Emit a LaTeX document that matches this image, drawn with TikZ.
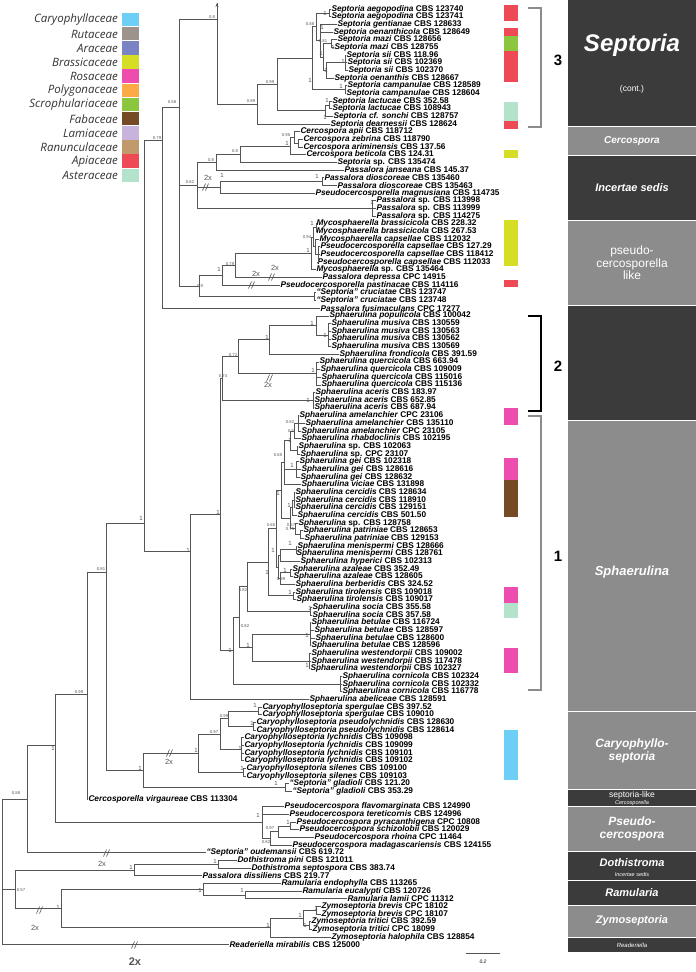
\documentclass[tikz,border=0pt]{standalone}
\usepackage{fontspec}
\setmainfont{Liberation Sans}[BoldFont={Liberation Sans Bold},ItalicFont={Liberation Sans Italic},BoldItalicFont={Liberation Sans Bold Italic}]
\newfontfamily\legfont{Open Sans}
\usetikzlibrary{calc,arrows.meta}

\definecolor{caryo}{HTML}{6DCFF6}
\definecolor{ruta}{HTML}{9B938C}
\definecolor{ara}{HTML}{7A84C3}
\definecolor{brass}{HTML}{D5DE24}
\definecolor{rosa}{HTML}{EE4DB0}
\definecolor{poly}{HTML}{FBAA45}
\definecolor{scro}{HTML}{8CC63F}
\definecolor{faba}{HTML}{744B25}
\definecolor{lami}{HTML}{C7B3DB}
\definecolor{ranu}{HTML}{C09A6C}
\definecolor{api}{HTML}{EE4A55}
\definecolor{aster}{HTML}{B4E3CC}
\definecolor{boxdark}{HTML}{3B3B3B}
\definecolor{boxlight}{HTML}{8C8C8C}
\definecolor{branchcol}{HTML}{555555}

\tikzset{
  branch/.style={draw=branchcol, line width=0.6pt},
  taxon/.style={anchor=west, inner sep=0.8pt, font=\fontsize{8.3}{8.3}\selectfont\bfseries},
  pp/.style={inner sep=0pt, font=\fontsize{6}{6}\selectfont, text=branchcol},
  ppsmall/.style={inner sep=0pt, font=\fontsize{4.2}{4.2}\selectfont, text=branchcol},
  twox/.style={inner sep=0pt, font=\fontsize{7.5}{7.5}\selectfont, text=branchcol},
  boxtext/.style={text=white, align=center, inner sep=0pt},
  bracketline/.style={line width=2.6pt},
  legtext/.style={anchor=east, inner sep=0pt, font=\legfont\itshape\fontsize{11.5}{11.5}\selectfont, text=black!80},
}

% taxon: index, label x, name, strain
\newcommand\tx[4]{\coordinate (t#1) at ({#2-1.5},{9+7.67*(#1-1)});
  \node[taxon] (l#1) at (t#1) {#3 #4};}
% clade: [y], name, x, children
\newcommand\clade[4][]{%
  \foreach \c [count=\i] in {#4}{\ifnum\i=1 \xdef\cfirst{\c}\fi\xdef\clast{\c}}%
  \ifx\relax#1\relax
    \path let \p1=(\cfirst), \p2=(\clast) in coordinate (#2) at (#3pt,{0.5*\y1+0.5*\y2});
  \else
    \coordinate (#2) at (#3,#1);
  \fi
  \foreach \c in {#4}{\draw[branch] (#2) |- (\c);}}
% break mark
\newcommand\brk[2]{\draw[branch] (#1-3.5,#2+3.5) -- (#1-0.5,#2-3.5) (#1-0.5,#2+3.5) -- (#1+2.5,#2-3.5);}
% clade box: top, bottom, colour
\newcommand\cbox[3]{\fill[#3] (568,#1) rectangle (696,#2);}

\begin{document}
\begin{tikzpicture}[x=1pt,y=-1pt]
\useasboundingbox (0,0) rectangle (696,972);
\fill[white] (0,0) rectangle (696,972);

% legend
\foreach \col/\name [count=\k] in {caryo/Caryophyllaceae,ruta/Rutaceae,ara/Araceae,brass/Brassicaceae,rosa/Rosaceae,poly/Polygonaceae,scro/Scrophulariaceae,faba/Fabaceae,lami/Lamiaceae,ranu/Ranunculaceae,api/Apiaceae,aster/Asteraceae}{
  \fill[\col] (121.5,{12.7+14.17*(\k-1)}) rectangle (138.5,{12.7+14.17*\k-0.6});
  \node[legtext] (leg\k) at (118,{12.7+14.17*(\k-0.5)}) {\name};
}

% taxa
\tx{1}{332}{\textit{Septoria aegopodina}}{CBS 123740}
\tx{2}{332}{\textit{Septoria aegopodina}}{CBS 123741}
\tx{3}{338}{\textit{Septoria gentianae}}{CBS 128633}
\tx{4}{334}{\textit{Septoria oenanthicola}}{CBS 128649}
\tx{5}{338}{\textit{Septoria mazi}}{CBS 128656}
\tx{6}{335}{\textit{Septoria mazi}}{CBS 128755}
\tx{7}{347}{\textit{Septoria sii}}{CBS 118.96}
\tx{8}{348}{\textit{Septoria sii}}{CBS 102369}
\tx{9}{349}{\textit{Septoria sii}}{CBS 102370}
\tx{10}{335}{\textit{Septoria oenanthis}}{CBS 128667}
\tx{11}{348}{\textit{Septoria campanulae}}{CBS 128589}
\tx{12}{347}{\textit{Septoria campanulae}}{CBS 128604}
\tx{13}{333}{\textit{Septoria lactucae}}{CBS 352.58}
\tx{14}{333}{\textit{Septoria lactucae}}{CBS 108943}
\tx{15}{334}{\textit{Septoria cf. sonchi}}{CBS 128757}
\tx{16}{331}{\textit{Septoria dearnessii}}{CBS 128624}
\tx{17}{301}{\textit{Cercospora apii}}{CBS 118712}
\tx{18}{304}{\textit{Cercospora zebrina}}{CBS 118790}
\tx{19}{304}{\textit{Cercospora ariminensis}}{CBS 137.56}
\tx{20}{307}{\textit{Cercospora beticola}}{CBS 124.31}
\tx{21}{338}{\textit{Septoria} sp.}{CBS 135474}
\tx{22}{345}{\textit{Passalora janseana}}{CBS 145.37}
\tx{23}{325}{\textit{Passalora dioscoreae}}{CBS 135460}
\tx{24}{338}{\textit{Passalora dioscoreae}}{CBS 135463}
\tx{25}{316}{\textit{Pseudocercosporella magnusiana}}{CBS 114735}
\tx{26}{377}{\textit{Passalora} sp.}{CBS 113998}
\tx{27}{377}{\textit{Passalora} sp.}{CBS 113999}
\tx{28}{377}{\textit{Passalora} sp.}{CBS 114275}
\tx{29}{317}{\textit{Mycosphaerella brassicicola}}{CBS 228.32}
\tx{30}{317}{\textit{Mycosphaerella brassicicola}}{CBS 267.53}
\tx{31}{320}{\textit{Mycosphaerella capsellae}}{CBS 112032}
\tx{32}{321}{\textit{Pseudocercosporella capsellae}}{CBS 127.29}
\tx{33}{321}{\textit{Pseudocercosporella capsellae}}{CBS 118412}
\tx{34}{318}{\textit{Pseudocercosporella capsellae}}{CBS 112033}
\tx{35}{317}{\textit{Mycosphaerella} sp.}{CBS 135464}
\tx{36}{323}{\textit{Passalora depressa}}{CPC 14915}
\tx{37}{281}{\textit{Pseudocercosporella pastinacae}}{CBS 114116}
\tx{38}{317}{\textit{``Septoria'' cruciatae}}{CBS 123747}
\tx{39}{317}{\textit{``Septoria'' cruciatae}}{CBS 123748}
\tx{40}{321}{\textit{Passalora fusimaculans}}{CPC 17277}
\tx{41}{330}{\textit{Sphaerulina populicola}}{CBS 100042}
\tx{42}{332}{\textit{Sphaerulina musiva}}{CBS 130559}
\tx{43}{332}{\textit{Sphaerulina musiva}}{CBS 130563}
\tx{44}{332}{\textit{Sphaerulina musiva}}{CBS 130562}
\tx{45}{332}{\textit{Sphaerulina musiva}}{CBS 130569}
\tx{46}{340}{\textit{Sphaerulina frondicola}}{CBS 391.59}
\tx{47}{320}{\textit{Sphaerulina quercicola}}{CBS 663.94}
\tx{48}{321}{\textit{Sphaerulina quercicola}}{CBS 109009}
\tx{49}{322}{\textit{Sphaerulina quercicola}}{CBS 115016}
\tx{50}{322}{\textit{Sphaerulina quercicola}}{CBS 115136}
\tx{51}{316}{\textit{Sphaerulina aceris}}{CBS 183.97}
\tx{52}{315}{\textit{Sphaerulina aceris}}{CBS 652.85}
\tx{53}{315}{\textit{Sphaerulina aceris}}{CBS 687.94}
\tx{54}{300}{\textit{Sphaerulina amelanchier}}{CPC 23106}
\tx{55}{306}{\textit{Sphaerulina amelanchier}}{CBS 135110}
\tx{56}{302}{\textit{Sphaerulina amelanchier}}{CPC 23105}
\tx{57}{302}{\textit{Sphaerulina rhabdoclinis}}{CBS 102195}
\tx{58}{299}{\textit{Sphaerulina} sp.}{CBS 102063}
\tx{59}{301}{\textit{Sphaerulina} sp.}{CPC 23107}
\tx{60}{300}{\textit{Sphaerulina gei}}{CBS 102318}
\tx{61}{302}{\textit{Sphaerulina gei}}{CBS 128616}
\tx{62}{301}{\textit{Sphaerulina gei}}{CBS 128632}
\tx{63}{302}{\textit{Sphaerulina viciae}}{CBS 131898}
\tx{64}{296}{\textit{Sphaerulina cercidis}}{CBS 128634}
\tx{65}{296}{\textit{Sphaerulina cercidis}}{CBS 118910}
\tx{66}{296}{\textit{Sphaerulina cercidis}}{CBS 129151}
\tx{67}{298}{\textit{Sphaerulina cercidis}}{CBS 501.50}
\tx{68}{299}{\textit{Sphaerulina} sp.}{CBS 128758}
\tx{69}{304}{\textit{Sphaerulina patriniae}}{CBS 128653}
\tx{70}{305}{\textit{Sphaerulina patriniae}}{CBS 129153}
\tx{71}{298}{\textit{Sphaerulina menispermi}}{CBS 128666}
\tx{72}{297}{\textit{Sphaerulina menispermi}}{CBS 128761}
\tx{73}{301}{\textit{Sphaerulina hyperici}}{CBS 102313}
\tx{74}{293}{\textit{Sphaerulina azaleae}}{CBS 352.49}
\tx{75}{294}{\textit{Sphaerulina azaleae}}{CBS 128605}
\tx{76}{296}{\textit{Sphaerulina berberidis}}{CBS 324.52}
\tx{77}{296}{\textit{Sphaerulina tirolensis}}{CBS 109018}
\tx{78}{297}{\textit{Sphaerulina tirolensis}}{CBS 109017}
\tx{79}{313}{\textit{Sphaerulina socia}}{CBS 355.58}
\tx{80}{313}{\textit{Sphaerulina socia}}{CBS 357.58}
\tx{81}{312}{\textit{Sphaerulina betulae}}{CBS 116724}
\tx{82}{315}{\textit{Sphaerulina betulae}}{CBS 128597}
\tx{83}{316}{\textit{Sphaerulina betulae}}{CBS 128600}
\tx{84}{312}{\textit{Sphaerulina betulae}}{CBS 128596}
\tx{85}{312}{\textit{Sphaerulina westendorpii}}{CBS 109002}
\tx{86}{312}{\textit{Sphaerulina westendorpii}}{CBS 117478}
\tx{87}{311}{\textit{Sphaerulina westendorpii}}{CBS 102327}
\tx{88}{343}{\textit{Sphaerulina cornicola}}{CBS 102324}
\tx{89}{343}{\textit{Sphaerulina cornicola}}{CBS 102332}
\tx{90}{343}{\textit{Sphaerulina cornicola}}{CBS 116778}
\tx{91}{310}{\textit{Sphaerulina abeliceae}}{CBS 128591}
\tx{92}{263}{\textit{Caryophylloseptoria spergulae}}{CBS 397.52}
\tx{93}{263}{\textit{Caryophylloseptoria spergulae}}{CBS 109010}
\tx{94}{257}{\textit{Caryophylloseptoria pseudolychnidis}}{CBS 128630}
\tx{95}{257}{\textit{Caryophylloseptoria pseudolychnidis}}{CBS 128614}
\tx{96}{245}{\textit{Caryophylloseptoria lychnidis}}{CBS 109098}
\tx{97}{245}{\textit{Caryophylloseptoria lychnidis}}{CBS 109099}
\tx{98}{245}{\textit{Caryophylloseptoria lychnidis}}{CBS 109101}
\tx{99}{245}{\textit{Caryophylloseptoria lychnidis}}{CBS 109102}
\tx{100}{247}{\textit{Caryophylloseptoria silenes}}{CBS 109100}
\tx{101}{247}{\textit{Caryophylloseptoria silenes}}{CBS 109103}
\tx{102}{290}{\textit{``Septoria'' gladioli}}{CBS 121.20}
\tx{103}{293}{\textit{``Septoria'' gladioli}}{CBS 353.29}
\tx{104}{89}{\textit{Cercosporella virgaureae}}{CBS 113304}
\tx{105}{285}{\textit{Pseudocercospora flavomarginata}}{CBS 124990}
\tx{106}{290}{\textit{Pseudocercospora tereticornis}}{CBS 124996}
\tx{107}{297}{\textit{Pseudocercospora pyracanthigena}}{CPC 10808}
\tx{108}{300}{\textit{Pseudocercospora schizolobii}}{CBS 120029}
\tx{109}{315}{\textit{Pseudocercospora rhoina}}{CPC 11464}
\tx{110}{293}{\textit{Pseudocercospora madagascariensis}}{CBS 124155}
\tx{111}{207}{\textit{``Septoria'' oudemansii}}{CBS 619.72}
\tx{112}{238}{\textit{Dothistroma pini}}{CBS 121011}
\tx{113}{252}{\textit{Dothistroma septospora}}{CBS 383.74}
\tx{114}{203}{\textit{Passalora dissiliens}}{CBS 219.77}
\tx{115}{282}{\textit{Ramularia endophylla}}{CBS 113265}
\tx{116}{303}{\textit{Ramularia eucalypti}}{CBS 120726}
\tx{117}{348}{\textit{Ramularia lamii}}{CPC 11312}
\tx{118}{322}{\textit{Zymoseptoria brevis}}{CPC 18102}
\tx{119}{322}{\textit{Zymoseptoria brevis}}{CPC 18107}
\tx{120}{312}{\textit{Zymoseptoria tritici}}{CBS 392.59}
\tx{121}{313}{\textit{Zymoseptoria tritici}}{CPC 18099}
\tx{122}{332}{\textit{Zymoseptoria halophila}}{CBS 128854}
\tx{123}{230}{\textit{Readeriella mirabilis}}{CBS 125000}

% Septoria (cont.)
\clade{sA}{329}{t1,t2}
\clade{sM}{331}{t5,t6}
\clade{sS}{345}{t7,t8,t9}
\clade{sE}{326}{sS,t10}
\clade{sD}{323}{sM,sE}
\clade{sB}{320}{t3,t4,sD}
\clade{sC}{316}{sA,sB}
\clade{sCp}{345}{t11,t12}
\clade{sT}{312}{sC,sCp}
\clade{sLa}{329}{t13,t14}
\clade{sL}{325}{sLa,t15}
\clade{sN}{277}{sT,sL}
\clade{sV}{257}{sN,t16}
\coordinate (sTop) at (217,3);
\clade[19.4]{sR}{217}{sTop,sV}
\draw[branch,-{Stealth[length=4pt,width=3pt]}] (sR) -- (sTop);
% Cercospora and incertae sedis
\clade{cAZ}{298}{t18,t19}
\clade{cA}{294}{t17,cAZ}
\clade{cB}{290}{cA,t20}
\clade{cC}{240}{cB,t21}
\clade{cD}{216}{cC,t22}
\clade{iP}{322}{t23,t24}
\clade{iQ}{220}{iP,t25}
\clade{iS}{372}{t26,t27,t28}
\clade{iK}{197}{cD,iQ,iS}
% pseudocercosporella-like
\clade{bB}{316}{t29,t30}
\clade{bC}{318}{t32,t33,t34}
\clade{bD}{315}{t31,bC}
\clade{bE}{313}{bB,bD}
\clade{bF}{311}{bE,t35}
\clade{pcA}{235}{bF,t36}
\clade{pcB}{222}{pcA,t37}
\clade{pcC}{314}{t38,t39}
\clade{pcD}{199}{pcB,pcC}
\clade[107]{qR}{179}{sR,iK,pcD}
\clade[140]{qQ}{162}{qR,t40}
% Sphaerulina clade 2
\clade{hMu}{328}{t42,t43,t44,t45}
\clade{hPo}{316}{t41,hMu}
\clade{hF}{269}{hPo,t46}
\clade{hQu}{316}{t47,t48,t49,t50}
\clade{hB}{238}{hF,hQu}
\clade{hAc}{313}{t51,t52,t53}
\clade{hC}{222}{hB,hAc}
% Sphaerulina clade 1
\clade{kAm}{298}{t54,t55,t56}
\clade{kAm2}{294}{kAm,t57}
\clade{kSp}{297}{t58,t59}
\clade{kAm3}{290}{kAm2,kSp}
\clade{kGe}{296}{t60,t61,t62}
\clade{kG}{284}{kAm3,kGe,t63}
\clade{kCe}{294}{t64,t65,t66}
\clade{kCe2}{292}{kCe,t67}
\clade{kPa}{300}{t69,t70}
\clade{kSP}{295}{t68,kPa}
\clade{kCP}{290}{kCe2,kSP}
\clade{kGC}{281}{kG,kCP}
\clade{kMe}{296}{t71,t72}
\clade{kMH}{280}{kMe,t73}
\clade{kAz}{290}{t74,t75}
\clade{kAB}{280}{kAz,t76}
\clade{kMA}{278}{kMH,kAB}
\clade{kH}{276}{kGC,kMA}
\clade{kTi}{293}{t77,t78}
\clade{kA}{268}{kH,kTi}
\clade{kSo}{310}{t79,t80}
\clade{kB}{247}{kA,kSo}
\clade{kBe}{310}{t81,t82,t83,t84}
\clade{kWe}{309}{t85,t86,t87}
\clade{kBW}{252}{kBe,kWe}
\clade{kC}{239}{kB,kBW}
\clade{kCo}{340}{t88,t89,t90}
\clade{kD}{233}{kC,kCo}
\clade{hS}{220}{hC,kD}
\clade[551]{kE}{190}{hS,t91}
\clade[523]{nU}{144}{qQ,kE}
% Caryophylloseptoria and gladioli
\clade{cSp}{258}{t92,t93}
\clade{cPs}{253}{t94,t95}
\clade{cSP}{228}{cSp,cPs}
\clade{cLy}{241}{t96,t97,t98,t99}
\clade{cLP}{220}{cSP,cLy}
\clade{cSi}{243}{t100,t101}
\clade{cCar}{198}{cLP,cSi}
\clade{cGl}{285}{t102,t103}
\clade{cCG}{143}{cCar,cGl}
\clade[572]{nW}{106}{nU,cCG}
\clade[694]{nX}{87}{nW,t104}
% Pseudocercospora
\clade{pPS}{290}{t107,t108}
\clade{pPR}{278}{pPS,t109}
\clade{pPM}{270}{pPR,t110}
\clade{pPs}{262}{t105,t106,pPM}
\clade[745]{nY}{55}{nX,pPs}
\clade{nZ}{27}{nY,t111}
% Dothistroma, Ramularia, Zymoseptoria
\clade{dD}{218}{t112,t113}
\clade{dP}{134}{dD,t114}
\clade{rE}{245}{t116,t117}
\clade{rR}{203}{t115,rE}
\clade{zB}{316}{t118,t119}
\clade{zT}{309}{t120,t121}
\clade{zBT}{303}{zB,zT}
\clade{zZ}{270}{zBT,t122}
\clade{rZ}{61}{rR,zZ}
\clade{nQ}{15}{dP,rZ}
\clade{root}{2}{nZ,nQ,t123}

% breaks
\brk{170}{753}\brk{107}{853}\brk{206}{187}\brk{270}{378}\brk{252}{285}\brk{272}{277}\brk{40}{910}\brk{135}{945}
\node[twox] at (169,762) {2x};
\node[twox] at (102,864) {2x};
\node[twox] at (208,178) {2x};
\node[twox] at (268,385) {2x};
\node[twox] at (256,274) {2x};
\node[twox] at (275,268) {2x};
\node[twox] at (35,928) {2x};
\node[inner sep=0pt, font=\fontsize{11}{11}\selectfont\bfseries, text=branchcol] at (135,962) {2x};

% support values
\foreach \px/\py/\v in {212/17/0.8,310/24/0.88,323/41/0.81,270/82/0.99,172/102/0.58,251/101/0.89,157/138/0.79,286/135/0.95,235/151/0.8,211/160/0.8,190/182/0.62,307/237/0.94,230/264/0.79,200/286/0.9,233/355/0.72,223/376/0.74,290/422/0.82,291/431/0.5,278/455/0.65,291/525/0.57,271/525/0.65,290/529/0.75,281/579/0.99,243/590/0.82,245/626/0.82,101/569/0.81,79/692/0.99,224/716/0.99,214/732/0.97,270/828/0.97,266/842/0.82,16/793/0.88,21/890/0.57}
  \node[ppsmall] at (\px,\py) {\v};
\foreach \px/\py in {325/13,322/27,333/47,321/53,343/61,326/70,310/80,341/86,327/100,325/117,287/143,222/175,317/176,372/202,312/223,308/250,219/269,312/323,325/335,267/337,313/370,308/400,290/440,292/465,278/493,289/505,218/512,141/518,188/550,290/543,273/550,285/570,267/572,290/592,310/608,230/650,248/645,307/635,307/665,53/748,255/705,252/723,240/748,196/750,140/768,242/768,276/783,258/815,288/822,215/861,131/867,200/890,242/890,58/907,300/915,316/908,305/925,268/925}
  \node[pp] at (\px,\py) {1};

% host bars
\fill[api] (504,5) rectangle (518,21);
\fill[api] (504,28) rectangle (518,36);
\fill[scro] (504,36) rectangle (518,51);
\fill[api] (504,51) rectangle (518,82);
\fill[aster] (504,102) rectangle (518,121);
\fill[api] (504,121) rectangle (518,129);
\fill[brass] (504,150) rectangle (518,158);
\fill[brass] (504,220) rectangle (518,266);
\fill[api] (504,280) rectangle (518,287);
\fill[rosa] (504,408) rectangle (518,425);
\fill[rosa] (504,458) rectangle (518,480);
\fill[faba] (504,480) rectangle (518,517);
\fill[rosa] (504,587) rectangle (518,603);
\fill[aster] (504,603) rectangle (518,618);
\fill[rosa] (504,648) rectangle (518,673);
\fill[caryo] (504,730) rectangle (518,780);

% brackets
\draw[bracketline, black!45] (528,8) -- (541,8) -- (541,127) -- (528,127);
\node[font=\fontsize{15}{15}\selectfont\bfseries] (num3) at (558,60) {3};
\draw[bracketline, black] (528,316) -- (541,316) -- (541,411) -- (528,411);
\node[font=\fontsize{15}{15}\selectfont\bfseries] (num2) at (558,366) {2};
\draw[bracketline, black!45] (528,416) -- (541,416) -- (541,690) -- (528,690);
\node[font=\fontsize{15}{15}\selectfont\bfseries] (num1) at (558,556) {1};

% clade boxes
\cbox{0}{126}{boxdark}
\cbox{127}{155}{boxlight}
\cbox{156}{220}{boxdark}
\cbox{221}{305}{boxlight}
\cbox{306}{420}{boxdark}
\cbox{421}{711}{boxlight}
\cbox{712}{789}{boxlight}
\cbox{790}{806}{boxdark}
\cbox{807}{851}{boxlight}
\cbox{852}{880}{boxdark}
\cbox{881}{905}{boxdark}
\cbox{906}{937}{boxlight}
\cbox{938}{952}{boxdark}
\node[boxtext, font=\fontsize{24}{24}\selectfont\bfseries\itshape] (bSep) at (632,45) {Septoria};
\node[boxtext, font=\fontsize{8.5}{8.5}\selectfont] (bSepc) at (632,89) {(cont.)};
\node[boxtext, font=\fontsize{10}{10}\selectfont\bfseries\itshape] (bCer) at (632,141) {Cercospora};
\node[boxtext, font=\fontsize{11}{11}\selectfont\bfseries\itshape] (bInc) at (632,188) {Incertae sedis};
\node[boxtext, font=\fontsize{12}{12.5}\selectfont] (bPcl) at (632,263) {pseudo-\\cercosporella\\like};
\node[boxtext, font=\fontsize{13}{13}\selectfont\bfseries\itshape] (bSph) at (632,572) {Sphaerulina};
\node[boxtext, font=\fontsize{12}{13}\selectfont\bfseries\itshape] (bCar) at (632,751) {Caryophyllo-\\septoria};
\node[boxtext, font=\fontsize{8.5}{8.5}\selectfont] (bSl) at (632,795) {septoria-like};
\node[boxtext, font=\fontsize{5.5}{5.5}\selectfont\itshape] (bSlc) at (632,803) {Cercosporella};
\node[boxtext, font=\fontsize{12}{13}\selectfont\bfseries\itshape] (bPs) at (632,829) {Pseudo-\\cercospora};
\node[boxtext, font=\fontsize{11}{11}\selectfont\bfseries\itshape] (bDo) at (632,863) {Dothistroma};
\node[boxtext, font=\fontsize{5.5}{5.5}\selectfont\itshape] (bDoi) at (632,875) {Incertae sedis};
\node[boxtext, font=\fontsize{11}{11}\selectfont\bfseries\itshape] (bRa) at (632,893) {Ramularia};
\node[boxtext, font=\fontsize{11}{11}\selectfont\bfseries\itshape] (bZy) at (632,921) {Zymoseptoria};
\node[boxtext, font=\fontsize{6}{6}\selectfont\itshape] (bRe) at (632,945) {Readeriella};

% scale bar
\draw[branch] (466,953) coordinate (sb1) -- (500,953) coordinate (sb2);
\node[inner sep=0pt, font=\fontsize{5}{5}\selectfont\itshape] (sbl) at (483,962) {0.2};
\end{tikzpicture}
\end{document}
